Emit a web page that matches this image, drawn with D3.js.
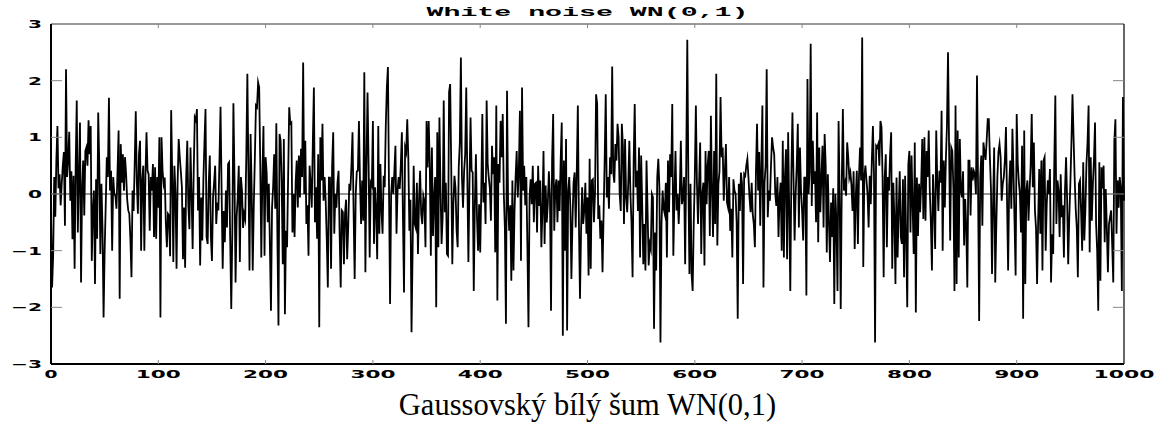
<!DOCTYPE html>
<html>
<head>
<meta charset="utf-8">
<script src="https://d3js.org/d3.v7.min.js"></script>
<style>
  body { margin: 0; background: #fff; }
  svg { display: block; }
</style>
</head>
<body>
<div id="chart"></div>
<script>
var width = 1165;
var height = 427;
var margin = {top: 24, right: 41, bottom: 63, left: 51};

var title = "White noise WN(0,1)";
var xLabel = "Gaussovsk\u00fd b\u00edl\u00fd \u0161um WN(0,1)";
var xTicks = [0, 100, 200, 300, 400, 500, 600, 700, 800, 900, 1000];
var yTicks = [-3, -2, -1, 0, 1, 2, 3];

// samples 0..249
var noise0 = [
  -0.3,-1.65,-1.1,0.3,-0.4,0.6,1.2,0.1,0.35,-0.2,
  0.18,0.5,0.74,-0.56,2.2,0.3,0.6,1.1,-0.12,0.4,
  -0.8,0.32,-1.32,0.5,1.65,-0.68,0.3,1.26,-1.56,0.1,
  0.59,-0.38,0.76,0.82,0.5,1.3,0.7,1.2,-1.18,-0.3,
  0.06,-1.59,0.26,-0.79,1.44,0.53,-1.06,0.18,-0.6,-2.18,
  -1.0,-0.2,0.65,0.3,1.7,0.06,0.41,-1.0,0.3,0.0,
  -0.03,-0.26,0.4,1.12,-1.85,0.88,0.2,0.7,0.06,0.65,
  0.35,-0.1,-0.29,-0.35,-0.8,-1.47,0.06,-0.3,0.53,1.46,
  0.2,-0.35,0.71,0.94,-1.0,0.24,0.5,-1.0,0.3,1.09,
  0.41,0.35,-0.65,0.3,0.06,0.53,-0.76,0.47,-0.79,0.3,
  -0.24,1.0,-2.18,1.0,0.4,0.18,0.29,-0.5,-0.94,-0.35,
  -0.38,-1.1,1.48,0.3,-1.2,0.5,0.03,-1.32,0.2,0.97,
  0.65,0.4,0.12,-1.15,-0.24,-1.3,0.3,0.94,-0.2,-0.62,
  0.82,0.0,-0.97,0.4,1.35,1.3,1.5,-0.29,0.3,-1.26,
  -0.06,-0.82,0.24,0.9,1.5,-0.76,-0.88,0.2,0.68,-0.76,
  -1.18,-0.06,0.2,0.5,-0.53,-0.15,-0.29,0.6,1.54,0.06,
  -1.32,-0.3,-0.85,0.06,-0.59,0.53,0.56,-0.8,-2.03,-0.65,
  1.6,0.3,-1.56,-0.4,-0.06,0.5,-1.2,0.3,0.06,-0.6,
  -0.35,-0.44,0.65,2.12,0.4,-1.35,1.06,0.1,-1.35,-0.2,
  0.65,1.56,1.53,1.97,1.88,0.56,-1.12,0.3,1.2,-1.09,
  0.65,0.38,-0.5,0.18,-0.9,-2.06,-0.24,0.12,0.7,-0.26,
  1.25,-0.76,-2.32,1.06,0.94,0.2,-1.24,0.97,-2.12,-0.65,
  -0.94,0.3,1.53,1.24,1.26,-0.68,0.0,-0.76,0.2,0.59,
  -0.24,0.68,-0.06,0.8,0.3,2.32,0.0,0.94,-0.53,-0.2,
  -1.09,0.5,0.18,-0.24,0.9,1.88,-0.5,0.12,-0.79,0.7
];

// samples 250..499
var noise250 = [
  -2.35,1.0,0.24,1.24,-0.12,0.3,-0.12,-0.8,-1.65,0.29,
  0.29,-1.32,0.5,1.09,-0.7,0.0,-0.24,0.2,0.41,-0.7,
  -1.65,-0.29,-0.32,-1.24,-0.35,-0.1,-1.15,-0.59,0.18,0.06,
  0.5,1.09,-0.3,-1.5,0.0,0.4,0.41,1.29,0.2,-0.53,
  0.24,-0.47,2.15,-1.38,0.5,1.79,0.53,-1.12,0.2,0.15,
  1.29,-0.88,0.12,-0.3,-1.15,1.2,-0.7,0.53,-0.3,-0.7,
  0.32,0.12,1.2,1.88,2.24,0.12,-1.94,0.0,0.3,0.0,
  0.4,0.85,-0.7,0.06,0.3,0.09,0.5,1.09,-0.4,-1.74,
  0.82,0.74,1.32,0.65,-0.65,-0.1,-2.44,-1.0,0.5,-0.53,
  -0.6,0.2,-1.06,-0.1,0.41,-0.35,-0.53,-0.03,-0.12,-0.94,
  1.29,0.47,1.29,0.53,-1.09,0.82,-0.74,-0.06,0.3,-2.0,
  1.09,-0.94,1.35,0.1,-0.88,-0.41,1.65,-0.32,0.2,-1.06,
  -1.09,1.8,1.94,0.5,-1.24,-0.18,0.32,0.1,-0.65,-0.94,
  0.47,0.9,2.41,0.29,-0.24,0.4,0.7,1.88,0.3,-1.2,
  0.18,1.35,0.41,0.38,-1.71,-0.2,0.7,-0.41,-1.0,-0.18,
  -1.03,0.06,1.41,-0.15,0.2,-0.53,1.65,0.53,0.29,0.1,
  -0.47,0.85,0.35,0.65,-1.03,1.56,-1.88,0.53,0.2,1.29,
  0.65,1.41,0.0,-0.6,-2.29,1.82,-0.18,-0.65,-0.2,-1.53,
  0.24,-1.35,-0.29,0.3,0.76,-0.06,0.4,1.47,-1.18,1.88,
  0.06,0.5,-0.2,0.3,-0.94,-2.35,-0.06,0.26,-0.18,0.5,
  -0.5,0.18,0.2,-0.68,0.5,-0.21,0.24,-0.94,-0.3,0.76,
  -0.88,0.15,-0.5,-0.18,0.4,-0.03,-2.06,0.6,1.41,-0.65,
  0.1,0.26,-0.5,0.24,-0.3,0.6,1.26,-2.5,0.59,-1.0,
  0.97,-2.41,0.06,0.3,-0.21,-1.5,-0.47,0.2,0.38,-0.59,
  0.4,1.56,-0.5,-1.85,-0.65,0.12,-0.53,-0.29,0.2,-0.7
];

// samples 500..749
var noise500 = [
  -0.06,-1.44,0.62,-1.32,0.24,0.26,-0.5,0.0,1.76,1.59,
  -0.44,-0.2,-0.79,-0.47,-1.38,-0.35,0.6,1.76,-0.06,0.3,
  -0.26,0.65,0.35,2.25,0.38,0.2,0.88,0.59,1.24,1.0,
  0.0,-0.3,1.24,0.85,-0.53,0.97,-0.06,-0.32,0.2,0.94,
  0.0,-0.5,-1.47,0.56,1.59,0.12,0.41,-0.3,0.82,-1.12,
  0.68,-0.2,-1.24,-0.53,-1.35,0.59,-0.3,-1.26,-0.88,-0.97,
  0.0,-0.06,-2.38,-0.68,-1.35,0.3,0.62,0.12,-2.62,-0.5,
  0.06,-0.26,-0.35,0.2,-1.12,0.59,-0.32,0.7,0.3,1.59,
  -1.09,-0.06,0.76,-0.29,0.0,-0.53,0.0,0.94,-0.18,-0.06,
  0.3,-1.24,0.5,2.72,0.26,-1.41,0.18,-1.41,-1.71,-0.53,
  0.3,1.56,0.18,-0.53,0.2,0.91,-1.06,0.0,0.2,-1.26,
  0.76,-0.18,0.5,0.76,-0.74,1.38,0.06,-0.76,0.76,-0.53,
  2.12,-0.91,0.18,0.4,1.71,0.65,0.82,-0.12,0.4,0.88,
  -0.15,-0.24,0.3,-0.65,-0.26,-1.12,0.26,0.06,0.0,-0.5,
  -2.2,0.18,-0.3,0.38,0.18,-1.59,0.35,0.32,0.5,0.62,
  0.29,-0.06,-0.32,0.2,-0.35,-0.53,-0.94,0.4,1.24,0.06,
  0.74,-0.56,0.5,1.56,-1.65,0.2,0.5,2.2,-0.41,0.06,
  -0.12,0.5,1.0,0.82,0.7,0.0,-0.21,0.3,-0.76,-0.06,
  0.2,-1.0,0.94,-1.12,0.3,0.79,-1.15,1.09,-0.3,-1.71,
  0.35,1.44,0.29,-0.82,0.0,0.5,1.24,-0.59,0.82,0.06,
  -0.3,-0.82,0.29,0.29,-1.79,2.03,0.0,0.4,2.65,-0.21,
  0.94,0.18,0.4,-0.5,1.44,-0.85,0.82,-0.32,0.3,0.85,
  -0.59,1.06,0.5,-1.03,0.35,-0.5,-1.2,-0.15,-0.76,0.1,
  -1.94,0.0,-0.5,-1.71,1.29,-0.06,-2.03,0.2,1.5,0.06,
  0.18,-0.03,0.91,0.65,0.29,0.38,0.15,-0.3,0.4,-0.97
];

// samples 750..1000
var noise750 = [
  -0.06,0.41,-0.88,0.3,0.82,0.24,2.76,-1.29,0.3,0.5,
  0.24,0.0,-0.59,0.32,-0.18,0.6,1.2,0.35,-2.62,0.85,
  0.82,0.88,0.5,1.29,1.18,0.29,-1.47,0.3,0.7,-0.94,
  0.3,0.06,0.7,1.09,-1.32,0.2,-0.41,-1.59,0.29,-1.12,
  -0.3,0.4,-0.76,-0.88,0.26,-1.47,0.32,-0.8,-2.0,0.53,
  0.76,-0.68,0.68,-0.2,-1.06,0.91,-2.09,0.29,-0.74,0.18,
  -0.32,0.2,0.97,-0.44,1.0,-0.47,0.76,0.3,1.12,0.06,
  -0.5,-1.35,0.35,-0.2,-0.97,1.12,0.24,-0.3,0.41,0.2,
  1.47,-1.0,0.59,-0.24,0.62,1.2,2.5,0.82,-0.82,0.82,
  0.76,0.1,-1.71,1.56,-1.59,1.12,-1.12,0.97,0.06,-0.06,
  0.4,-0.91,-0.09,-0.6,-1.65,0.59,0.59,-0.38,0.47,0.24,
  0.41,0.35,0.0,2.09,0.1,-2.24,0.29,0.68,-0.56,0.91,
  0.74,0.6,0.94,1.32,1.32,0.65,0.1,-1.41,-0.15,0.82,
  -1.56,-0.56,0.3,0.74,0.88,0.65,-0.12,0.18,0.3,0.6,
  1.18,-0.12,-1.35,0.15,0.59,-0.26,1.15,0.41,-0.5,-1.44,
  1.41,0.53,0.21,0.0,-0.68,0.85,-2.2,1.12,-1.59,0.06,
  0.24,-0.47,0.06,0.5,1.41,0.12,0.91,-0.29,-0.6,-1.59,
  -0.47,0.44,-0.7,0.59,-1.35,0.59,0.65,-1.0,-0.18,0.24,
  0.0,0.44,-1.56,-0.71,-1.06,0.5,1.74,-0.53,0.24,0.06,
  -0.76,0.35,-0.41,-0.2,-1.12,0.06,0.65,-0.1,-1.24,-0.41,
  0.18,0.9,1.76,1.0,0.29,-0.26,-0.6,-1.47,0.18,0.24,
  -0.3,-1.0,0.56,-0.82,-0.29,0.53,0.9,1.56,-1.03,0.65,
  -0.47,0.18,0.6,1.26,-0.53,-1.0,-2.06,0.56,-1.53,0.47,
  0.1,0.5,-0.85,0.09,-0.6,-1.38,-0.53,-0.41,-0.29,-0.9,
  -1.56,0.94,1.32,-0.7,0.24,-0.24,0.3,0.09,-1.71,1.71,
  -0.12
];

var noise = noise0.concat(noise250, noise500, noise750);

var x0 = margin.left, x1 = width - margin.right;
var y0 = height - margin.bottom, y1 = margin.top;

var xScale = d3.scaleLinear().domain([0, 1000]).range([x0, x1]);
var yScale = d3.scaleLinear().domain([-3, 3]).range([y0, y1]);

var svg = d3.select("#chart").append("svg")
  .attr("width", width)
  .attr("height", height);

// zero line
svg.append("line")
  .attr("x1", x0).attr("x2", x1)
  .attr("y1", yScale(0)).attr("y2", yScale(0))
  .attr("stroke", "#333").attr("stroke-width", 1);

// the noise itself
var line = d3.line()
  .x(function(d, i) { return xScale(i); })
  .y(function(d) { return yScale(d); });

svg.append("path")
  .datum(noise)
  .attr("fill", "none")
  .attr("stroke", "#000")
  .attr("stroke-width", 1.8)
  .attr("stroke-linejoin", "miter")
  .attr("stroke-miterlimit", 10)
  .attr("d", line);

// frame
svg.append("line").attr("x1", x0).attr("x2", x1).attr("y1", y1).attr("y2", y1)
  .attr("stroke", "#777").attr("stroke-width", 1.5);
svg.append("line").attr("x1", x1).attr("x2", x1).attr("y1", y1).attr("y2", y0)
  .attr("stroke", "#000").attr("stroke-width", 1.2);
svg.append("line").attr("x1", x0).attr("x2", x1).attr("y1", y0).attr("y2", y0)
  .attr("stroke", "#000").attr("stroke-width", 2);
svg.append("line").attr("x1", x0).attr("x2", x0).attr("y1", y1).attr("y2", y0)
  .attr("stroke", "#000").attr("stroke-width", 2);

// ticks (inward, grey)
var tickG = svg.append("g").attr("stroke", "#888").attr("stroke-width", 1);
yTicks.forEach(function(t) {
  if (t === 3 || t === -3) return;
  tickG.append("line").attr("x1", x0).attr("x2", x0 + 11)
    .attr("y1", yScale(t)).attr("y2", yScale(t));
  tickG.append("line").attr("x1", x1).attr("x2", x1 - 11)
    .attr("y1", yScale(t)).attr("y2", yScale(t));
});
xTicks.forEach(function(t) {
  if (t === 0 || t === 1000) return;
  tickG.append("line").attr("x1", xScale(t)).attr("x2", xScale(t))
    .attr("y1", y0).attr("y2", y0 - 4);
  tickG.append("line").attr("x1", xScale(t)).attr("x2", xScale(t))
    .attr("y1", y1).attr("y2", y1 + 4);
});

// tick labels: small bold glyphs stretched wide
function tickText(s) { return s < 0 ? "\u2212" + Math.abs(s) : String(s); }

svg.append("g").selectAll("text")
  .data(yTicks).enter().append("text")
  .attr("x", 42)
  .attr("y", function(d) { return yScale(d) + 4; })
  .attr("text-anchor", "end")
  .attr("font-family", "DejaVu Sans")
  .attr("font-weight", "bold")
  .attr("font-size", 10.5)
  .attr("textLength", function(d) { return d < 0 ? 31 : 14; })
  .attr("lengthAdjust", "spacingAndGlyphs")
  .text(tickText);

svg.append("g").selectAll("text")
  .data(xTicks).enter().append("text")
  .attr("x", function(d) { return xScale(d); })
  .attr("y", y0 + 13.5)
  .attr("text-anchor", "middle")
  .attr("font-family", "DejaVu Sans")
  .attr("font-weight", "bold")
  .attr("font-size", 10.5)
  .attr("textLength", function(d) { return String(d).length * 16 - 3; })
  .attr("lengthAdjust", "spacingAndGlyphs")
  .text(tickText);

// title
svg.append("text")
  .attr("x", (x0 + x1) / 2)
  .attr("y", 16)
  .attr("text-anchor", "middle")
  .attr("font-family", "Liberation Mono")
  .attr("font-weight", "bold")
  .attr("font-size", 13)
  .attr("textLength", 322)
  .attr("lengthAdjust", "spacingAndGlyphs")
  .text(title);

// x axis caption
svg.append("text")
  .attr("x", (x0 + x1) / 2)
  .attr("y", 415)
  .attr("text-anchor", "middle")
  .attr("font-family", "Liberation Serif")
  .attr("font-size", 30.5)
  .text(xLabel);
</script>
</body>
</html>
